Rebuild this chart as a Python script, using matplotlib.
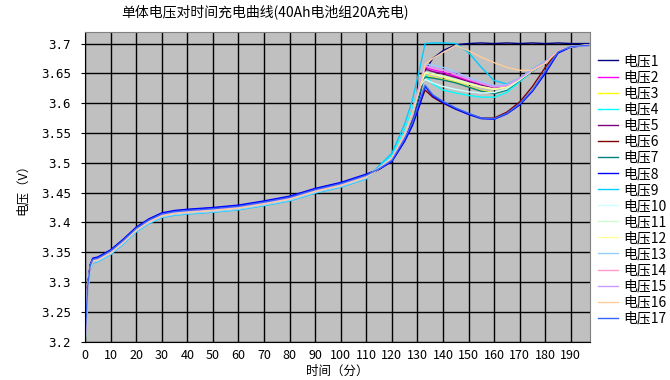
import numpy as np
import matplotlib
matplotlib.use("Agg")
import matplotlib.pyplot as plt

plt.rcParams['font.family'] = ['Noto Sans CJK SC', 'DejaVu Sans']

# 共同的前段 (0-110 分)
t_base = [0, 1, 2, 3, 5, 10, 15, 20, 25, 30, 35, 40, 50, 60, 70, 80, 90, 100, 110]
v_base = [3.200, 3.290, 3.325, 3.336, 3.338, 3.350, 3.368, 3.388, 3.402, 3.412,
          3.416, 3.418, 3.421, 3.425, 3.432, 3.440, 3.453, 3.463, 3.477]

# 每个电压在前段的小偏移
base_shift = [0.003, 0.0, -0.002, -0.003, 0.002, 0.001, -0.001, 0.004, -0.004,
              0.0, -0.002, 0.0, -0.003, 0.001, 0.0, -0.001, 0.002]

# 后段 (115-197 分)
t_tail = [115, 120, 125, 128, 131, 133, 136, 140, 145, 150, 155, 160, 165, 170, 175, 180, 185, 190, 197]

v_tail = {
    '电压1':  [3.490, 3.505, 3.542, 3.570, 3.615, 3.655, 3.675, 3.688, 3.698, 3.700, 3.701, 3.700, 3.701, 3.700, 3.701, 3.700, 3.701, 3.700, 3.700],
    '电压2':  [3.491, 3.507, 3.545, 3.578, 3.628, 3.660, 3.656, 3.652, 3.645, 3.638, 3.632, 3.626, 3.628, 3.640, 3.655, 3.668, 3.688, 3.695, 3.697],
    '电压3':  [3.491, 3.507, 3.545, 3.576, 3.622, 3.646, 3.643, 3.640, 3.635, 3.628, 3.621, 3.617, 3.624, 3.640, 3.655, 3.668, 3.688, 3.695, 3.697],
    '电压4':  [3.493, 3.512, 3.555, 3.590, 3.632, 3.648, 3.632, 3.622, 3.617, 3.613, 3.610, 3.610, 3.618, 3.636, 3.654, 3.668, 3.688, 3.695, 3.697],
    '电压5':  [3.490, 3.505, 3.543, 3.575, 3.626, 3.657, 3.653, 3.649, 3.643, 3.636, 3.630, 3.625, 3.627, 3.639, 3.654, 3.668, 3.688, 3.695, 3.697],
    '电压6':  [3.489, 3.503, 3.538, 3.565, 3.600, 3.622, 3.610, 3.600, 3.590, 3.582, 3.575, 3.575, 3.585, 3.602, 3.628, 3.660, 3.688, 3.695, 3.698],
    '电压7':  [3.490, 3.506, 3.544, 3.575, 3.620, 3.644, 3.642, 3.639, 3.634, 3.627, 3.620, 3.616, 3.622, 3.638, 3.654, 3.668, 3.688, 3.695, 3.697],
    '电压8':  [3.489, 3.502, 3.536, 3.562, 3.598, 3.628, 3.612, 3.601, 3.590, 3.581, 3.574, 3.573, 3.582, 3.597, 3.620, 3.650, 3.684, 3.694, 3.697],
    '电压9':  [3.495, 3.516, 3.565, 3.605, 3.660, 3.700, 3.701, 3.701, 3.700, 3.685, 3.660, 3.638, 3.632, 3.642, 3.657, 3.670, 3.688, 3.695, 3.698],
    '电压10': [3.491, 3.508, 3.548, 3.582, 3.628, 3.640, 3.634, 3.628, 3.623, 3.619, 3.617, 3.618, 3.624, 3.639, 3.655, 3.668, 3.688, 3.695, 3.697],
    '电压11': [3.491, 3.507, 3.546, 3.580, 3.630, 3.652, 3.650, 3.646, 3.640, 3.634, 3.628, 3.624, 3.627, 3.640, 3.655, 3.668, 3.688, 3.695, 3.697],
    '电压12': [3.491, 3.507, 3.546, 3.579, 3.629, 3.650, 3.648, 3.644, 3.638, 3.632, 3.627, 3.623, 3.627, 3.640, 3.655, 3.668, 3.688, 3.695, 3.697],
    '电压13': [3.492, 3.509, 3.550, 3.585, 3.636, 3.666, 3.664, 3.660, 3.652, 3.643, 3.636, 3.630, 3.631, 3.642, 3.656, 3.669, 3.688, 3.695, 3.697],
    '电压14': [3.491, 3.507, 3.546, 3.580, 3.631, 3.662, 3.659, 3.655, 3.648, 3.640, 3.633, 3.627, 3.629, 3.641, 3.656, 3.669, 3.688, 3.695, 3.697],
    '电压15': [3.491, 3.507, 3.546, 3.580, 3.632, 3.663, 3.660, 3.656, 3.649, 3.641, 3.634, 3.628, 3.630, 3.642, 3.656, 3.669, 3.688, 3.695, 3.697],
    '电压16': [3.491, 3.508, 3.548, 3.583, 3.626, 3.665, 3.675, 3.685, 3.697, 3.688, 3.677, 3.668, 3.660, 3.655, 3.655, 3.667, 3.688, 3.695, 3.698],
    '电压17': [3.490, 3.504, 3.540, 3.567, 3.606, 3.630, 3.614, 3.603, 3.592, 3.583, 3.575, 3.574, 3.583, 3.599, 3.622, 3.654, 3.686, 3.695, 3.697],
}

colors = ['#000080', '#ff00ff', '#ffff00', '#00ffff', '#800080', '#800000',
          '#008080', '#0000ff', '#00ccff', '#ccffff', '#ccffcc', '#ffff99',
          '#99ccff', '#ff99cc', '#cc99ff', '#ffcc99', '#3366ff']

x_ticks = list(range(0, 200, 10))
y_ticks = [3.2, 3.25, 3.3, 3.35, 3.4, 3.45, 3.5, 3.55, 3.6, 3.65, 3.7]
y_labels = ['3.2', '3.25', '3.3', '3.35', '3.4', '3.45', '3.5', '3.55', '3.6', '3.65', '3.7']

fig = plt.figure(figsize=(6.7, 3.8), dpi=100)
ax = fig.add_axes([0.127, 0.101, 0.754, 0.815])
ax.set_facecolor('#c0c0c0')

for i, (name, tail) in enumerate(v_tail.items()):
    t = t_base + t_tail
    v = [b + base_shift[i] for b in v_base] + tail
    ax.plot(t, v, color=colors[i], lw=1.0, label=name)

ax.set_xlim(0, 197.6)
ax.set_ylim(3.2, 3.7195)
ax.set_xticks(x_ticks)
ax.set_yticks(y_ticks)
ax.set_yticklabels(y_labels, family='DejaVu Sans Mono')
ax.tick_params(axis='x', labelsize=9, length=0, pad=5)
ax.tick_params(axis='y', labelsize=9, length=3, pad=7, color='black')
ax.grid(True, color='black', lw=1.0)
ax.set_axisbelow(True)
for s in ['top', 'right']:
    ax.spines[s].set_color('#808080')
for s in ['left', 'bottom']:
    ax.spines[s].set_color('black')

ax.set_xlabel('时间（分）', fontsize=9)
ax.xaxis.set_label_coords(0.5, -0.075)
ax.set_ylabel('电压（V）', fontsize=9)
ax.yaxis.set_label_coords(-0.112, 0.5)
fig.text(0.396, 0.968, '单体电压对时间充电曲线(40Ah电池组20A充电)', fontsize=10,
         ha='center', va='center')

fig.legend(loc='upper left', bbox_to_anchor=(0.893, 0.857), frameon=False,
           fontsize=10, handlelength=1.4, handletextpad=0.4, labelspacing=0.15,
           borderaxespad=0, borderpad=0)

fig.savefig('out.png', dpi=100)
